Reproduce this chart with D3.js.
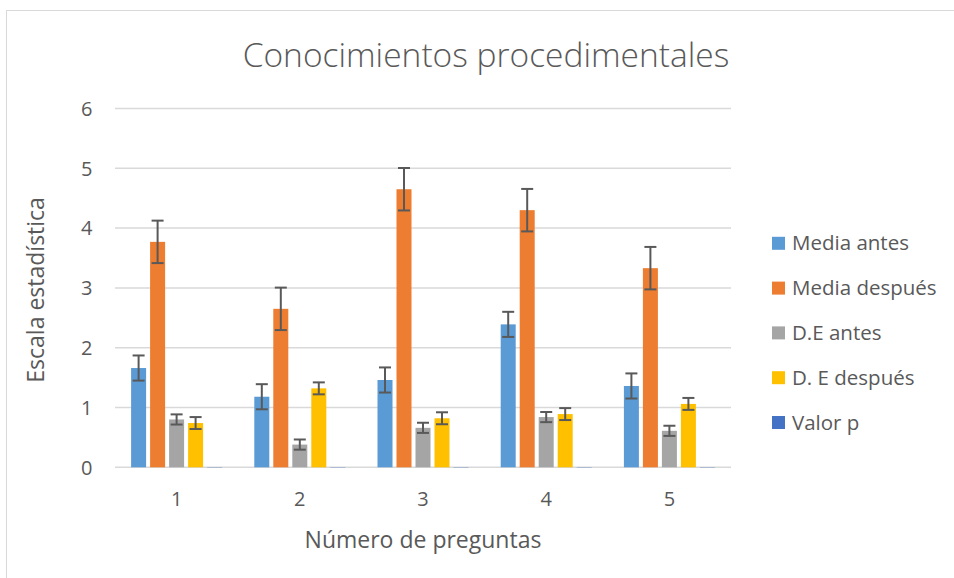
<!DOCTYPE html>
<html>
<head>
<meta charset="utf-8">
<script src="https://cdn.jsdelivr.net/npm/d3@7"></script>
<style>
  html, body { margin: 0; padding: 0; background: #fff; }
  svg { display: block; }
  text { font-family: "Open Sans", "Noto Sans", sans-serif; fill: #595959; }
</style>
</head>
<body>
<svg id="chart" width="954" height="578"></svg>
<script>
const categories = ["1", "2", "3", "4", "5"];
const seriesNames = ["Media antes", "Media después", "D.E antes", "D. E después", "Valor p"];
const mediaAntes   = [1.66, 1.18, 1.46, 2.39, 1.36];
const mediaDespues = [3.77, 2.65, 4.65, 4.30, 3.33];
const deAntes      = [0.80, 0.38, 0.66, 0.84, 0.61];
const deDespues    = [0.74, 1.32, 0.82, 0.89, 1.06];
const valorP       = [0.005, 0.005, 0.005, 0.005, 0.005];
const errorValues  = [0.21, 0.355, 0.085, 0.10, 0];
const seriesColors = ["#5B9BD5", "#ED7D31", "#A5A5A5", "#FFC000", "#4472C4"];
const yTicks = [0, 1, 2, 3, 4, 5, 6];

const seriesValues = [mediaAntes, mediaDespues, deAntes, deDespues, valorP];

const svg = d3.select("#chart");
const W = 954, H = 578;

// chart border
svg.append("rect")
  .attr("x", 6.5).attr("y", 10.5)
  .attr("width", W + 10).attr("height", H + 10)
  .attr("fill", "none").attr("stroke", "#d9d9d9").attr("stroke-width", 1);

const plot = { left: 115, right: 731, top: 108.5, bottom: 467.3 };

const y = d3.scaleLinear().domain([0, 6]).range([plot.bottom, plot.top]);
const x0 = d3.scaleBand().domain(categories).range([plot.left, plot.right]).padding(0);
const x1 = d3.scaleBand().domain(seriesNames).range([-45.5, 45.5]).paddingInner(4 / 19).paddingOuter(0);

// gridlines
svg.append("g").selectAll("line").data(yTicks).join("line")
  .attr("x1", plot.left).attr("x2", plot.right)
  .attr("y1", d => y(d)).attr("y2", d => y(d))
  .attr("stroke", "#d9d9d9").attr("stroke-width", 1.5);

// y tick labels
const yAxis = d3.axisLeft(y).tickValues(yTicks).tickSize(0).tickPadding(0).tickFormat(d3.format("d"));
const gy = svg.append("g").attr("transform", `translate(${92.5},0)`).call(yAxis);
gy.select(".domain").remove();
gy.selectAll("text").style("font-size", "20px").attr("fill", "#595959")
  .style("font-family", '"Open Sans", sans-serif').attr("dy", "0.34em");

// x tick labels
const xAxis = d3.axisBottom(x0).tickSize(0).tickPadding(0);
const gx = svg.append("g").attr("transform", `translate(0,${plot.bottom})`).call(xAxis);
gx.select(".domain").remove();
gx.selectAll("text").style("font-size", "20px").attr("fill", "#595959")
  .style("font-family", '"Open Sans", sans-serif').attr("y", 0).attr("dy", "39px");

// bars
const flat = [];
categories.forEach((c, i) => {
  seriesNames.forEach((s, j) => {
    flat.push({ cat: c, series: s, value: seriesValues[j][i], err: errorValues[j], color: seriesColors[j] });
  });
});

const barW = x1.bandwidth();
svg.append("g").selectAll("rect").data(flat).join("rect")
  .attr("x", d => x0(d.cat) + x0.bandwidth() / 2 + x1(d.series))
  .attr("width", barW)
  .attr("y", d => y(d.value))
  .attr("height", d => y(0) - y(d.value))
  .attr("fill", d => d.color);

// error bars
const errG = svg.append("g").attr("stroke", "#595959").attr("stroke-width", 2).attr("fill", "none");
flat.filter(d => d.err > 0).forEach(d => {
  const cx = x0(d.cat) + x0.bandwidth() / 2 + x1(d.series) + barW / 2;
  const yt = y(d.value + d.err), yb = y(d.value - d.err);
  errG.append("line").attr("x1", cx).attr("x2", cx).attr("y1", yt).attr("y2", yb);
  errG.append("line").attr("x1", cx - 6).attr("x2", cx + 6).attr("y1", yt).attr("y2", yt);
  errG.append("line").attr("x1", cx - 6).attr("x2", cx + 6).attr("y1", yb).attr("y2", yb);
});

// title
svg.append("text")
  .attr("x", 486).attr("y", 67)
  .attr("text-anchor", "middle")
  .style("font-size", "33.5px")
  .style("font-weight", 300)
  .text("Conocimientos procedimentales");

// axis titles
svg.append("text")
  .attr("x", (plot.left + plot.right) / 2).attr("y", 548)
  .attr("text-anchor", "middle")
  .style("font-size", "23px")
  .text("Número de preguntas");

svg.append("text")
  .attr("transform", `translate(44,${(plot.top + plot.bottom) / 2 + 2}) rotate(-90)`)
  .attr("text-anchor", "middle")
  .style("font-size", "23px")
  .text("Escala estadística");

// legend
const legend = svg.append("g");
seriesNames.forEach((s, j) => {
  const cy = 243.3 + j * 44.8;
  legend.append("rect").attr("x", 772).attr("y", cy - 6.5).attr("width", 13).attr("height", 13).attr("fill", seriesColors[j]);
  legend.append("text").attr("x", 792).attr("y", cy).attr("dy", "0.35em")
    .style("font-size", "20.5px").text(s);
});
</script>
</body>
</html>
